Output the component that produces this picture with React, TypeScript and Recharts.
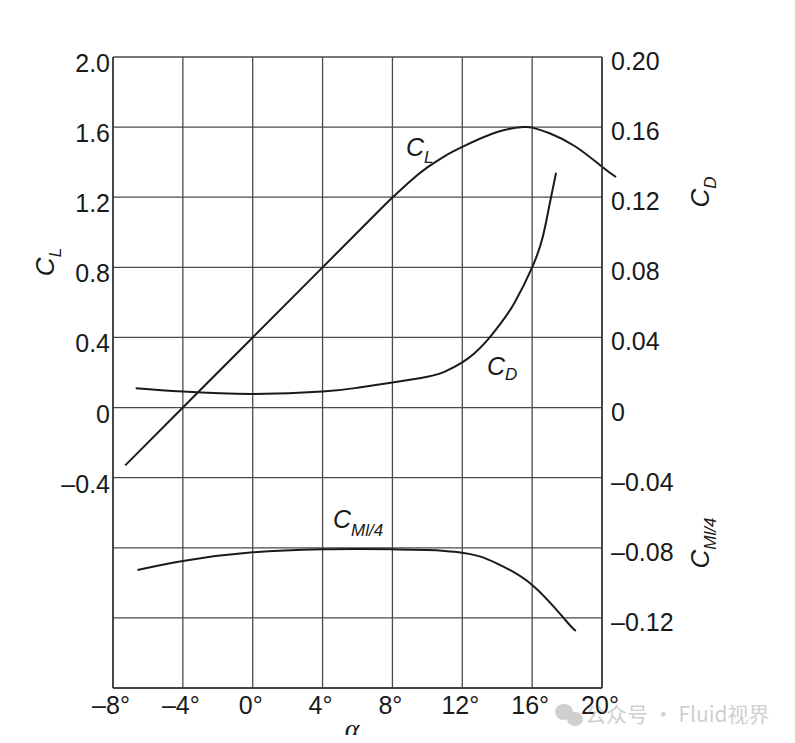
import { LineChart, Line, XAxis, YAxis, CartesianGrid } from "recharts";

// lift coefficient C_L (left axis) vs angle of attack
const clAlpha = [-7.3, -4, 0, 4, 7, 8, 9, 10, 11, 12, 14, 15.5, 16, 17, 18.5, 20, 20.8];
const clValue = [-0.33, 0, 0.4, 0.8, 1.1, 1.198, 1.29, 1.37, 1.435, 1.487, 1.572, 1.6, 1.597, 1.565, 1.488, 1.374, 1.315];

// drag coefficient C_D (right axis)
const cdAlpha = [-6.7, -4, 0, 4, 6, 8, 10, 11, 12, 12.7, 13.4, 14.2, 15, 16, 16.6, 17, 17.37];
const cdValue = [0.011, 0.0091, 0.0078, 0.0091, 0.0113, 0.0143, 0.0176, 0.0205, 0.0258, 0.031, 0.038, 0.048, 0.06, 0.08, 0.097, 0.116, 0.134];

// moment coefficient C_M c/4 (right axis)
const cmAlpha = [-6.6, -4, 0, 4, 6, 8, 10, 11, 12, 13, 14, 16, 17.9, 18.5];
const cmValue = [-0.0927, -0.0875, -0.0826, -0.0809, -0.0807, -0.0809, -0.0813, -0.0818, -0.0828, -0.0849, -0.089, -0.1012, -0.1212, -0.1275];

const alphaTicks = [-8, -4, 0, 4, 8, 12, 16, 20];
const leftTicks = [-1.6, -1.2, -0.8, -0.4, 0, 0.4, 0.8, 1.2, 1.6, 2.0];
const rightTicks = [-0.16, -0.12, -0.08, -0.04, 0, 0.04, 0.08, 0.12, 0.16, 0.2];

const clData = clAlpha.map((a, i) => ({ a, v: clValue[i] }));
const cdData = cdAlpha.map((a, i) => ({ a, v: cdValue[i] }));
const cmData = cmAlpha.map((a, i) => ({ a, v: cmValue[i] }));

const FONT = "'Liberation Sans', Arial, sans-serif";
const INK = "#1a1a1a";

const fmt = (v: number, digits: number) => {
  if (Math.abs(v) < 1e-9) return "0";
  const s = Math.abs(v).toFixed(digits);
  return v < 0 ? "\u2013" + s : s;
};

const LeftTick = ({ x, y, payload }: any) => {
  if (payload.value < -0.41) return null;
  return (
    <text x={x - 3} y={y + 6} textAnchor="end" dominantBaseline="central" fontSize={25} fontFamily={FONT} fill={INK}>
      {fmt(payload.value, 1)}
    </text>
  );
};

const RightTick = ({ x, y, payload }: any) => {
  if (payload.value < -0.13) return null;
  return (
    <text x={x + 9} y={y + 4} textAnchor="start" dominantBaseline="central" fontSize={25} fontFamily={FONT} fill={INK}>
      {fmt(payload.value, 2)}
    </text>
  );
};

const BottomTick = ({ x, y, payload }: any) => (
  <text x={x - 2} y={y + 26} textAnchor="middle" fontSize={25} fontFamily={FONT} fill={INK}>
    {fmt(payload.value, 0) + "\u00b0"}
  </text>
);

export default function App() {
  return (
    <div style={{ position: "relative", width: 787, height: 735, marginBottom: -8 }}>
      <style>{`.cl-line, .cl-line * { clip-path: none !important; }`}</style>
      <LineChart width={787} height={727} margin={{ top: 49, right: 133, bottom: 7, left: 45 }}>
        <CartesianGrid yAxisId="l" stroke="#4a4a4a" strokeWidth={1.3} />
        <XAxis
          type="number"
          dataKey="a"
          domain={[-8, 20]}
          ticks={alphaTicks}
          interval={0}
          allowDataOverflow
          height={40}
          tickSize={0}
          tickMargin={0}
          tickLine={false}
          axisLine={{ stroke: "#333", strokeWidth: 1.5 }}
          tick={<BottomTick />}
        />
        <YAxis
          yAxisId="l"
          type="number"
          domain={[-1.6, 2.0]}
          ticks={leftTicks}
          interval={0}
          width={60}
          tickSize={0}
          tickMargin={0}
          tickLine={false}
          axisLine={{ stroke: "#333", strokeWidth: 1.5 }}
          tick={<LeftTick />}
        />
        <YAxis
          yAxisId="r"
          orientation="right"
          type="number"
          domain={[-0.16, 0.2]}
          ticks={rightTicks}
          interval={0}
          width={60}
          tickSize={0}
          tickMargin={0}
          tickLine={false}
          axisLine={{ stroke: "#333", strokeWidth: 1.5 }}
          tick={<RightTick />}
        />
        <Line className="cl-line" yAxisId="l" data={clData} dataKey="v" type="natural" stroke={INK} strokeWidth={2} dot={false} isAnimationActive={false} />
        <Line yAxisId="r" data={cdData} dataKey="v" type="natural" stroke={INK} strokeWidth={2} dot={false} isAnimationActive={false} />
        <Line yAxisId="r" data={cmData} dataKey="v" type="natural" stroke={INK} strokeWidth={2} dot={false} isAnimationActive={false} />
      </LineChart>

      <svg width={787} height={735} style={{ position: "absolute", left: 0, top: 0, pointerEvents: "none", overflow: "visible" }}>
        <g fontFamily={FONT} fill={INK}>
          {/* curve labels */}
          <text x={398} y={148} fontSize={25} fontStyle="italic">
            C<tspan fontSize={17} dy={7}>L</tspan>
          </text>
          <text x={479} y={367} fontSize={25} fontStyle="italic">
            C<tspan fontSize={17} dy={5}>D</tspan>
          </text>
          <text x={325} y={520} fontSize={25} fontStyle="italic">
            C<tspan fontSize={17} dy={8}>Ml/4</tspan>
          </text>

          {/* axis titles */}
          <text transform="translate(46,254) rotate(-90)" textAnchor="middle" fontSize={26} fontStyle="italic">
            C<tspan fontSize={17} dy={7}>L</tspan>
          </text>
          <text transform="translate(701,184) rotate(-90)" textAnchor="middle" fontSize={26} fontStyle="italic">
            C<tspan fontSize={17} dy={7}>D</tspan>
          </text>
          <text transform="translate(701,535) rotate(-90)" textAnchor="middle" fontSize={26} fontStyle="italic">
            C<tspan fontSize={17} dy={7}>Ml/4</tspan>
          </text>
          <text x={344} y={730} textAnchor="middle" fontSize={28} fontStyle="italic" fontFamily="'Liberation Serif', 'DejaVu Serif', serif">
            α
          </text>
        </g>

        {/* watermark */}
        <g opacity={0.35} fill="#777">
          <ellipse cx={556} cy={704} rx={9} ry={8} />
          <ellipse cx={567} cy={711} rx={8} ry={7} />
          <text x={577} y={714} fontSize={21} fontFamily="'Noto Sans CJK SC', sans-serif">
            公众号 · Fluid视界
          </text>
        </g>
      </svg>
    </div>
  );
}
